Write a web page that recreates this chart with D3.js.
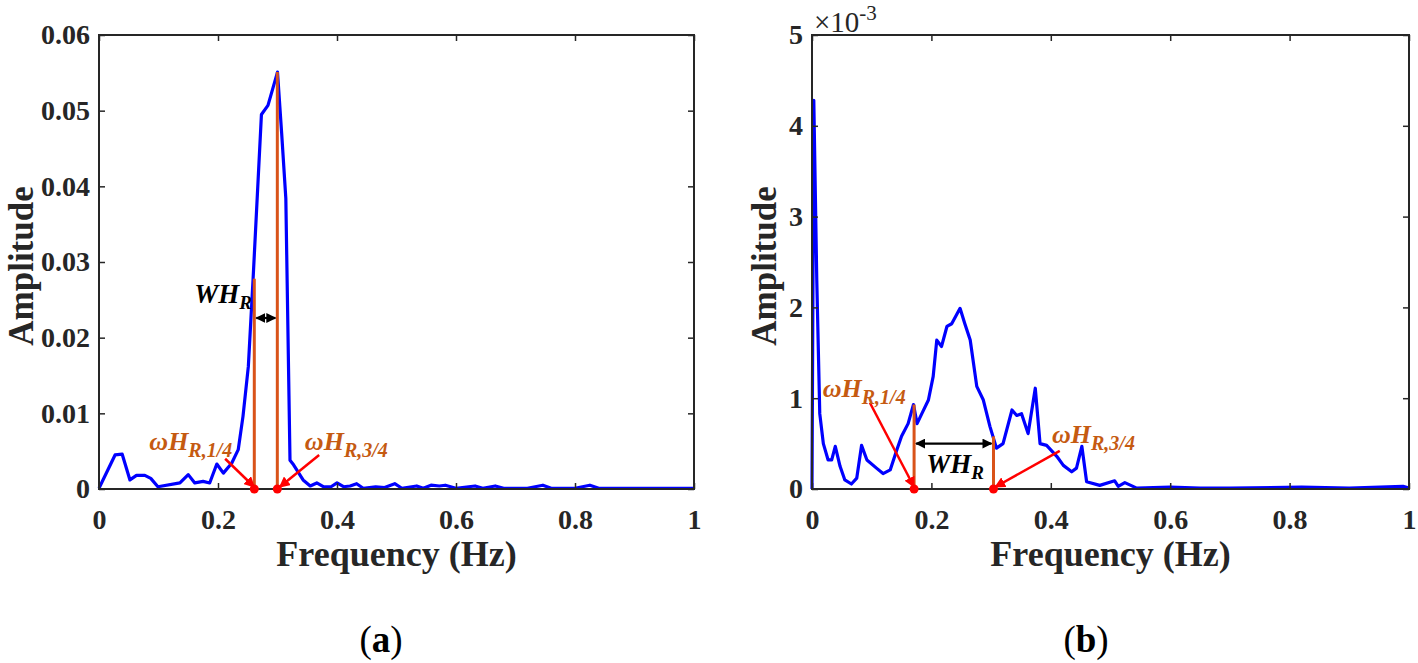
<!DOCTYPE html>
<html><head><meta charset="utf-8">
<script src="https://cdn.jsdelivr.net/npm/d3@7"></script>
<style>body{margin:0;background:#fff}svg{display:block}</style>
</head><body>
<svg id="chart" width="1418" height="663"></svg>
<script>
// ---------- data ----------
const freqA = [0,0.027,0.039,0.052,0.063,0.077,0.087,0.099,0.136,0.150,0.161,0.175,0.186,0.198,0.209,0.223,0.234,0.242,0.251,0.259,0.273,0.284,0.300,0.307,0.314,0.321,0.327,0.343,0.355,0.366,0.377,0.390,0.400,0.411,0.422,0.433,0.444,0.465,0.480,0.497,0.509,0.534,0.545,0.558,0.572,0.582,0.600,0.632,0.645,0.666,0.680,0.720,0.746,0.760,0.800,0.825,0.840,0.900,1.000];
const ampA  = [0.0001,0.0045,0.0046,0.0012,0.0018,0.0018,0.0014,0.0003,0.0008,0.0019,0.0008,0.0010,0.0008,0.0033,0.0021,0.0034,0.0052,0.0096,0.0162,0.0278,0.0495,0.0507,0.0551,0.0470,0.0384,0.0038,0.0032,0.0012,0.0004,0.0008,0.0003,0.0003,0.0008,0.0003,0.0004,0.0007,0.0001,0.0003,0.0002,0.0007,0.0001,0.0004,0.0001,0.0005,0.0004,0.0005,0.0001,0.0004,0.0001,0.0004,0.0001,0.0001,0.0005,0.0001,0.0001,0.0005,0.0001,0.0001,0.0001];

const freqB = [0,0.003,0.008,0.013,0.019,0.027,0.033,0.039,0.047,0.055,0.066,0.075,0.083,0.092,0.108,0.119,0.131,0.142,0.150,0.161,0.170,0.176,0.184,0.195,0.203,0.209,0.217,0.226,0.234,0.248,0.256,0.265,0.276,0.287,0.298,0.309,0.320,0.335,0.343,0.351,0.362,0.374,0.382,0.393,0.410,0.421,0.435,0.443,0.452,0.460,0.482,0.507,0.513,0.524,0.544,0.600,0.650,0.700,0.820,0.900,0.990,1.000];
const ampB  = [0,4.28,2.30,0.83,0.50,0.32,0.32,0.47,0.25,0.10,0.055,0.12,0.48,0.32,0.23,0.17,0.21,0.43,0.58,0.72,0.93,0.72,0.83,0.98,1.24,1.64,1.57,1.79,1.82,1.99,1.82,1.64,1.13,0.98,0.69,0.45,0.50,0.87,0.81,0.83,0.61,1.11,0.50,0.48,0.36,0.26,0.19,0.23,0.47,0.08,0.04,0.09,0.03,0.07,0.01,0.02,0.01,0.01,0.02,0.01,0.03,0.01]; // ×10^-3

const xTickValues = [0,0.2,0.4,0.6,0.8,1];
const xTickLabels = ["0","0.2","0.4","0.6","0.8","1"];
const yTickValuesA = [0,0.01,0.02,0.03,0.04,0.05,0.06];
const yTickLabelsA = ["0","0.01","0.02","0.03","0.04","0.05","0.06"];
const yTickValuesB = [0,1,2,3,4,5];
const yTickLabelsB = ["0","1","2","3","4","5"];

const markFreqA = [0.261,0.2997], markAmpA = [0.0278,0.0551];
const markFreqB = [0.171,0.304],  markAmpB = [0.93,0.58];

const panelNames = ["a","b"];
const xTitle = "Frequency (Hz)", yTitle = "Amplitude";

// ---------- layout ----------
const svg = d3.select("#chart");
const FONT = "'Liberation Serif','DejaVu Serif',serif";
const AX = "#262626", BLUE = "#0000ff", ORANGE = "#d95319", OTXT = "#c55a11";

const defs = svg.append("defs");
function mk(id, color, size){
  defs.append("marker").attr("id",id).attr("viewBox","0 0 10 10").attr("refX",9).attr("refY",5)
    .attr("markerWidth",size).attr("markerHeight",size).attr("markerUnits","userSpaceOnUse")
    .attr("orient","auto-start-reverse")
    .append("path").attr("d","M0,0 L10,5 L0,10 z").attr("fill",color);
}
mk("arrRed","#ff0000",11); mk("arrBlk","#000",10);

const panels = [
  {name:panelNames[0], x0:99, x1:694, freq:freqA, amp:ampA, ymax:0.06, yv:yTickValuesA, yl:yTickLabelsA,
   mf:markFreqA, ma:markAmpA, ytitleX:33, nameX:381,
   lab1:{f:0.224,a:0.00515,anchor:"end"}, lab2:{f:0.346,a:0.00515,anchor:"start"},
   arr1:[0.212,0.0040], arr2:[0.370,0.0045], arr2end:0.3037,
   wh:{f0:0.261,f1:0.2997,a:0.0226}, whText:{f:0.257,a:0.0246,anchor:"end"}},
  {name:panelNames[1], x0:812, x1:1409, freq:freqB, amp:ampB, ymax:5, yv:yTickValuesB, yl:yTickLabelsB,
   mf:markFreqB, ma:markAmpB, ytitleX:776, nameX:1086, exponent:true,
   lab1:{f:0.018,a:1.01,anchor:"start"}, lab2:{f:0.402,a:0.51,anchor:"start"},
   arr1:[0.097,0.95], arr2:[0.415,0.42], arr2end:0.307,
   wh:{f0:0.171,f1:0.304,a:0.50}, whText:{f:0.2395,a:0.176,anchor:"middle"}}
];
const Y0 = 489, Y1 = 35;

panels.forEach(p => {
  const x = d3.scaleLinear().domain([0,1]).range([p.x0,p.x1]);
  const y = d3.scaleLinear().domain([0,p.ymax]).range([Y0,Y1]);
  const g = svg.append("g");

  // series
  const pts = p.freq.map((f,i)=>[f,p.amp[i]]);
  g.append("path").datum(pts)
    .attr("d", d3.line().x(d=>x(d[0])).y(d=>y(d[1])))
    .attr("fill","none").attr("stroke",BLUE).attr("stroke-width",3.2)
    .attr("stroke-linejoin","round");

  // orange marker lines
  p.mf.forEach((f,i)=>{
    g.append("line").attr("x1",x(f)).attr("x2",x(f)).attr("y1",y(0)).attr("y2",y(p.ma[i]))
      .attr("stroke",ORANGE).attr("stroke-width",3);
  });

  // axes
  const styleAxis = (sel, labels) => {
    sel.select(".domain").remove();
    sel.selectAll(".tick line").attr("stroke",AX).attr("stroke-width",1.5);
    sel.selectAll(".tick text").attr("fill",AX).attr("font-family",FONT)
      .attr("font-weight","bold").attr("font-size",28);
    if(!labels) sel.selectAll(".tick text").remove();
  };
  g.append("g").attr("transform",`translate(0,${Y0})`)
    .call(d3.axisBottom(x).tickValues(xTickValues).tickFormat((d,i)=>xTickLabels[i]).tickSize(-6).tickPadding(20))
    .call(s=>styleAxis(s,true));
  g.append("g").attr("transform",`translate(0,${Y1})`)
    .call(d3.axisTop(x).tickValues(xTickValues).tickSize(-6))
    .call(s=>styleAxis(s,false));
  g.append("g").attr("transform",`translate(${p.x0},0)`)
    .call(d3.axisLeft(y).tickValues(p.yv).tickFormat((d,i)=>p.yl[i]).tickSize(-6).tickPadding(9))
    .call(s=>styleAxis(s,true));
  g.append("g").attr("transform",`translate(${p.x1},0)`)
    .call(d3.axisRight(y).tickValues(p.yv).tickSize(-6))
    .call(s=>styleAxis(s,false));
  g.append("rect").attr("x",p.x0).attr("y",Y1).attr("width",p.x1-p.x0).attr("height",Y0-Y1)
    .attr("fill","none").attr("stroke",AX).attr("stroke-width",2);

  // exponent
  if(p.exponent){
    const t = g.append("text").attr("x",p.x0+2).attr("y",Y1-3).attr("font-family",FONT)
      .attr("font-size",29).attr("fill",AX);
    t.append("tspan").text("×10");
    t.append("tspan").attr("dy",-12).attr("font-size",21).text("-3");
  }

  // titles
  g.append("text").attr("x",(p.x0+p.x1)/2).attr("y",566).attr("text-anchor","middle")
    .attr("font-family",FONT).attr("font-weight","bold").attr("font-size",36).attr("fill",AX).text(xTitle);
  g.append("text").attr("transform",`translate(${p.ytitleX},${(Y0+Y1)/2+4}) rotate(-90)`)
    .attr("text-anchor","middle").attr("font-family",FONT).attr("font-weight","bold")
    .attr("font-size",35).attr("fill",AX).text(yTitle);
  const nm = g.append("text").attr("x",p.nameX).attr("y",652).attr("text-anchor","middle")
    .attr("font-family",FONT).attr("font-size",37).attr("fill","#000");
  nm.append("tspan").text("(");
  nm.append("tspan").attr("font-weight","bold").text(p.name);
  nm.append("tspan").text(")");

  // red arrows
  [[p.arr1,p.mf[0]],[p.arr2,p.arr2end]].forEach(([from,toF])=>{
    g.append("line").attr("x1",x(from[0])).attr("y1",y(from[1]))
      .attr("x2",x(toF)).attr("y2",y(0)-2)
      .attr("stroke","#ff0000").attr("stroke-width",2.5).attr("marker-end","url(#arrRed)");
  });
  // red dots
  p.mf.forEach(f=>{
    g.append("circle").attr("cx",x(f)).attr("cy",y(0)).attr("r",4.5).attr("fill","#ff0000");
  });

  // orange labels
  [[p.lab1,"R,1/4"],[p.lab2,"R,3/4"]].forEach(([L,sub])=>{
    const t = g.append("text").attr("x",x(L.f)).attr("y",y(L.a)).attr("text-anchor",L.anchor)
      .attr("font-family",FONT).attr("font-weight","bold").attr("font-style","italic")
      .attr("font-size",26).attr("fill",OTXT);
    t.append("tspan").text("ωH");
    t.append("tspan").attr("dy",7).attr("font-size",20).text(sub);
  });

  // WH_R arrow and text
  g.append("line").attr("x1",x(p.wh.f0)+2).attr("x2",x(p.wh.f1)-2).attr("y1",y(p.wh.a)).attr("y2",y(p.wh.a))
    .attr("stroke","#000").attr("stroke-width",2.2)
    .attr("marker-start","url(#arrBlk)").attr("marker-end","url(#arrBlk)");
  const wt = g.append("text").attr("x",x(p.whText.f)).attr("y",y(p.whText.a)).attr("text-anchor",p.whText.anchor)
    .attr("font-family",FONT).attr("font-weight","bold").attr("font-style","italic")
    .attr("font-size",27).attr("fill","#000");
  wt.append("tspan").text("WH");
  wt.append("tspan").attr("dy",6).attr("font-size",19).text("R");
});
</script>
</body></html>
